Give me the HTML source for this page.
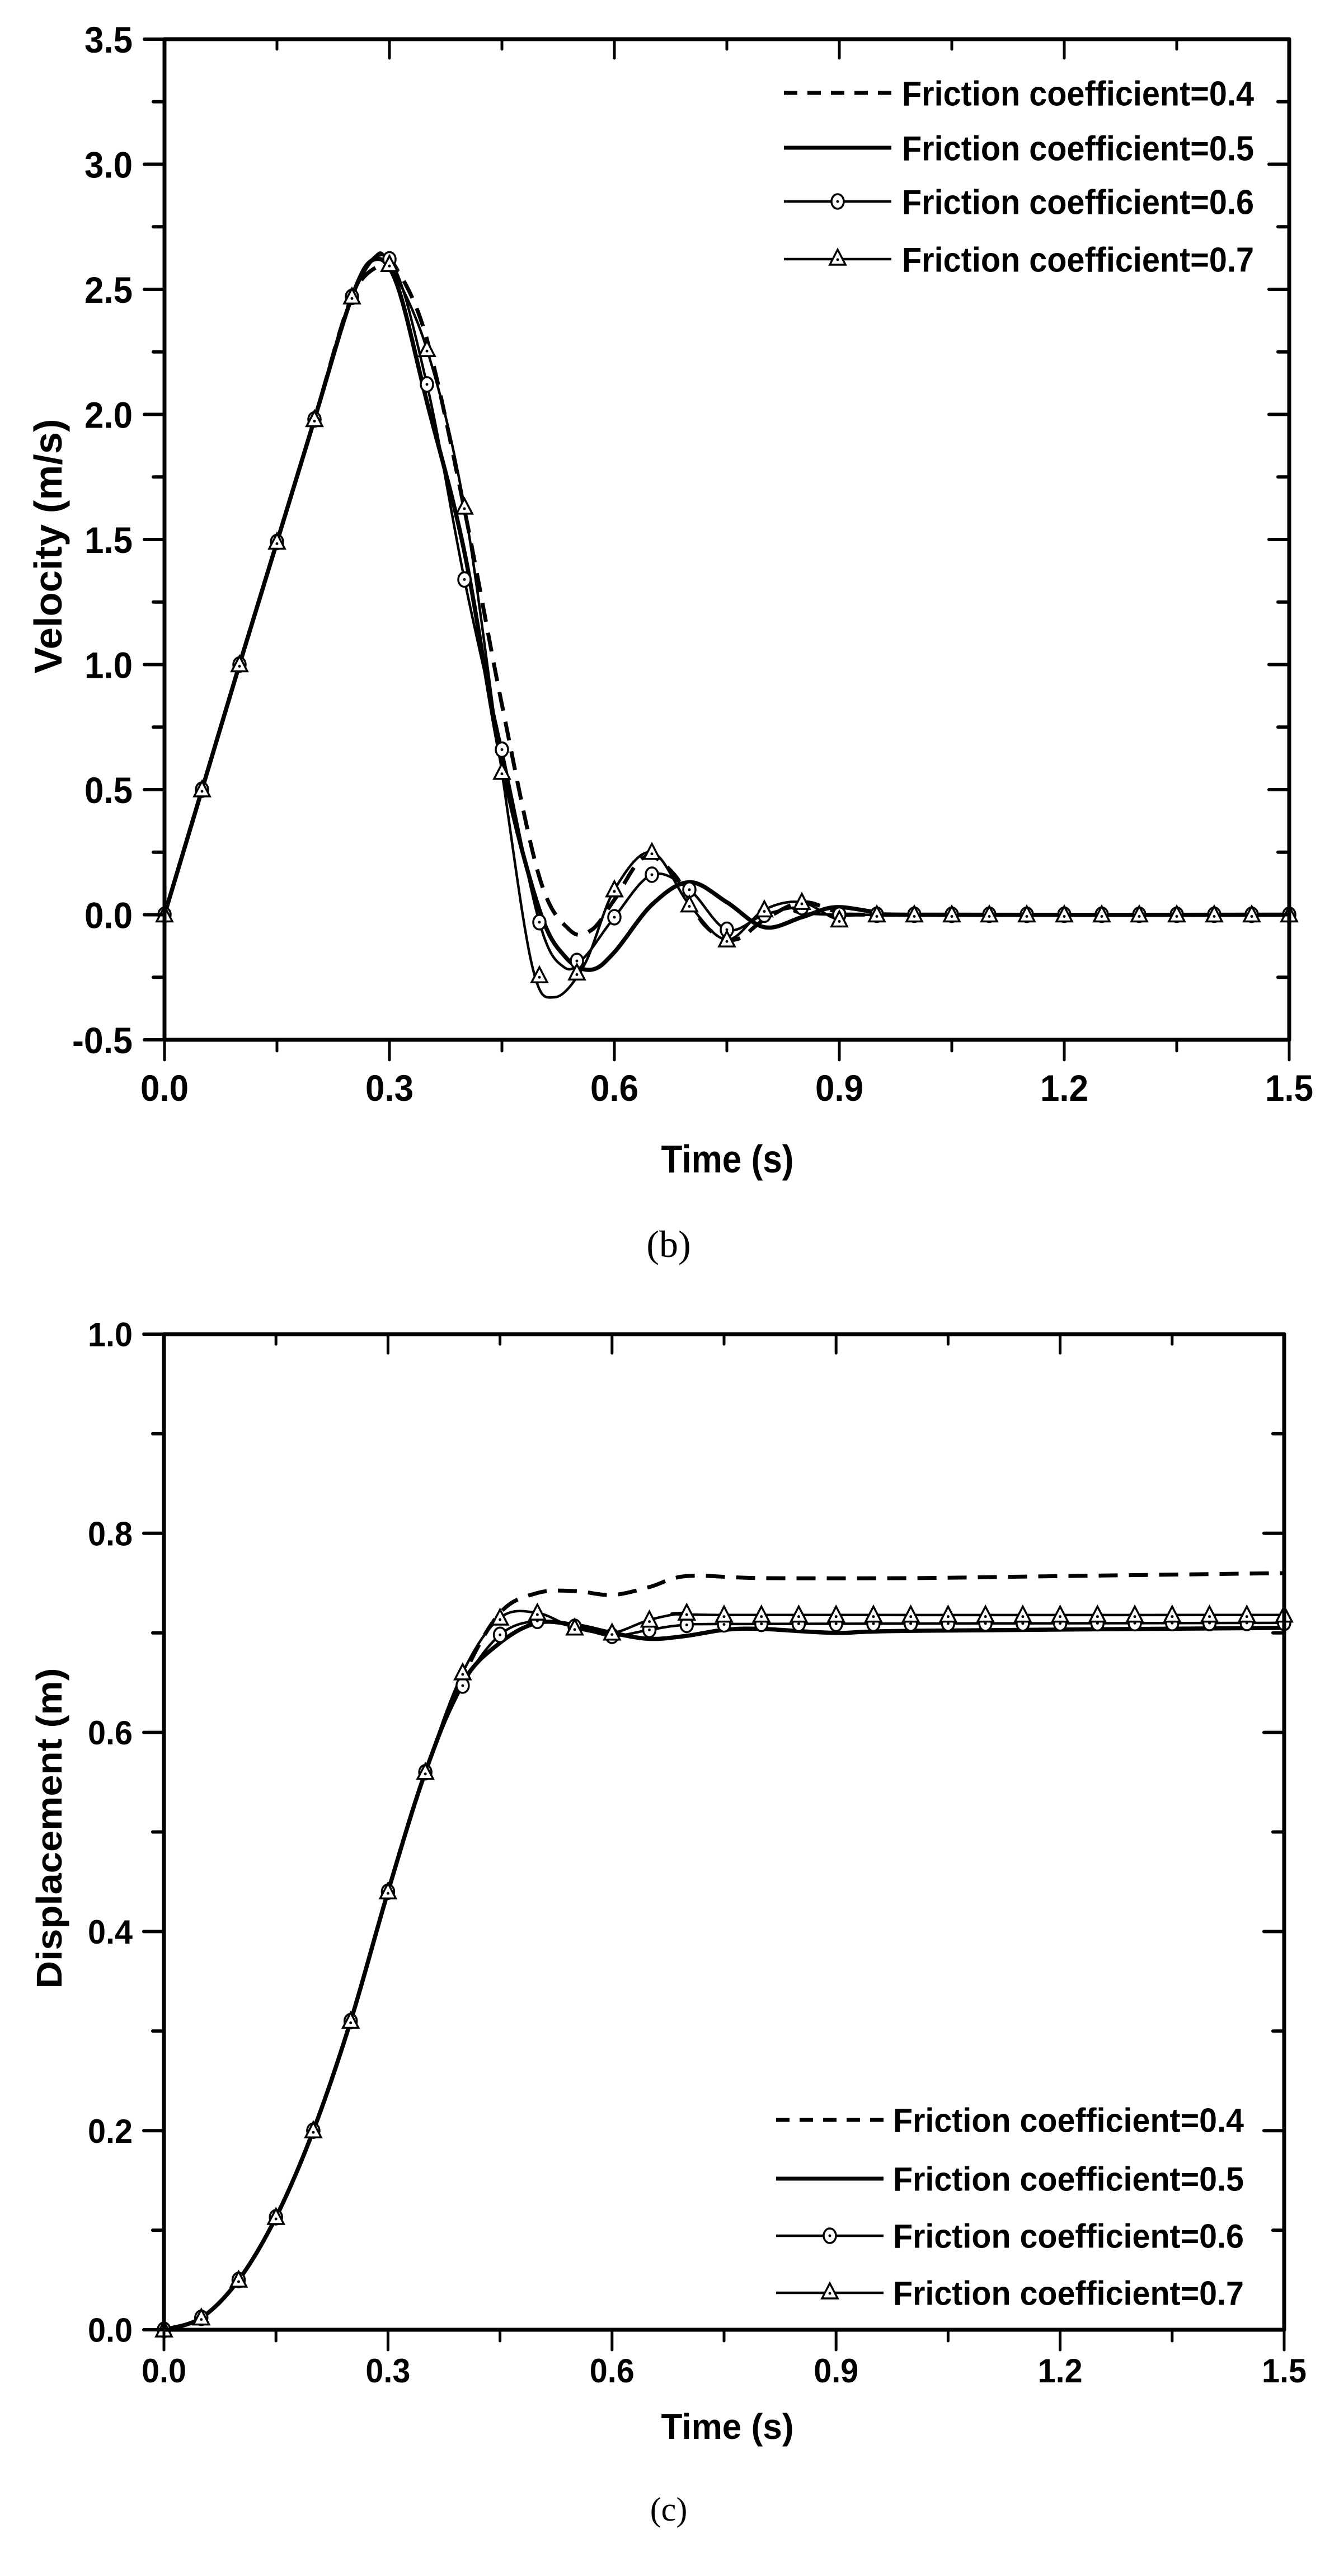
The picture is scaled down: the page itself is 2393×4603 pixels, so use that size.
<!DOCTYPE html>
<html><head><meta charset="utf-8">
<style>
html,body{margin:0;padding:0;background:#fff;}
svg{display:block;}
text{font-family:"Liberation Sans",Arial,sans-serif;font-weight:bold;fill:#000;}
.cap{font-family:"Liberation Serif","Times New Roman",serif;font-weight:normal;}
</style></head>
<body>
<svg id="s" width="2393" height="4603" viewBox="0 0 2393 4603" xmlns="http://www.w3.org/2000/svg">
<rect width="2393" height="4603" fill="#fff"/>
<g id="g"></g>
</svg>
<script>
var NS="http://www.w3.org/2000/svg",G=document.getElementById('g');
function el(n,a,t){var e=document.createElementNS(NS,n);for(var k in a)e.setAttribute(k,a[k]);if(t!=null)e.textContent=t;G.appendChild(e);return e;}
function line(x1,y1,x2,y2,w){el('line',{x1:x1,y1:y1,x2:x2,y2:y2,stroke:'#000','stroke-width':w,'stroke-linecap':'round'});}
function spline(pts){var d='M'+pts[0][0].toFixed(1)+','+pts[0][1].toFixed(1);
 for(var i=0;i<pts.length-1;i++){var p0=pts[i>0?i-1:0],p1=pts[i],p2=pts[i+1],p3=pts[i+2<pts.length?i+2:i+1];
  var c1x=p1[0]+(p2[0]-p0[0])/6,c1y=p1[1]+(p2[1]-p0[1])/6,c2x=p2[0]-(p3[0]-p1[0])/6,c2y=p2[1]-(p3[1]-p1[1])/6;
  d+='C'+c1x.toFixed(1)+','+c1y.toFixed(1)+' '+c2x.toFixed(1)+','+c2y.toFixed(1)+' '+p2[0].toFixed(1)+','+p2[1].toFixed(1);}
 return d;}
function interp(data,t){for(var i=0;i<data.length-1;i++){if(t>=data[i][0]&&t<=data[i+1][0]){var f=(t-data[i][0])/(data[i+1][0]-data[i][0]);return data[i][1]+f*(data[i+1][1]-data[i][1]);}}return data[data.length-1][1];}
function circ(x,y){el('ellipse',{cx:x,cy:y,rx:11,ry:13,fill:'#fff',stroke:'#000','stroke-width':3.5});el('circle',{cx:x,cy:y,r:2.5,fill:'#000'});}
function tri(x,y){el('polygon',{points:(x-14)+','+(y+12)+' '+(x+14)+','+(y+12)+' '+x+','+(y-15),fill:'#fff',stroke:'#000','stroke-width':3.5,'stroke-linejoin':'miter'});el('circle',{cx:x,cy:y+3,r:2.5,fill:'#000'});}

function chart(o){
 var X=function(t){return o.x0+(t/1.5)*(o.x1-o.x0);},Y=function(v){return o.y1-(v-o.vmin)/(o.vmax-o.vmin)*(o.y1-o.y0);};
 var S=o.series;
 el('path',{d:spline(S[0].map(function(p){return [X(p[0]),Y(p[1])];})),fill:'none',stroke:'#000','stroke-width':7,'stroke-dasharray':'34,20'});
 el('path',{d:spline(S[1].map(function(p){return [X(p[0]),Y(p[1])];})),fill:'none',stroke:'#000','stroke-width':7.5});
 el('path',{d:spline(S[2].map(function(p){return [X(p[0]),Y(p[1])];})),fill:'none',stroke:'#000','stroke-width':4.5});
 el('path',{d:spline(S[3].map(function(p){return [X(p[0]),Y(p[1])];})),fill:'none',stroke:'#000','stroke-width':4.5});
 for(var k=0;k<=30;k++){var t=k*0.05;circ(X(t),Y(interp(S[2],t)));}
 for(var k=0;k<=30;k++){var t=k*0.05;tri(X(t),Y(interp(S[3],t)));}
 var w=7;
 line(o.x0,o.y0,o.x1,o.y0,w);line(o.x0,o.y1,o.x1,o.y1,w);
 line(o.x0,o.y0,o.x0,o.y1,w);line(o.x1,o.y0,o.x1,o.y1,w);
 for(var k=0;k<=10;k++){var t=k*0.15,x=X(t),maj=(k%2==0);
  line(x,o.y1,x,o.y1+(maj?36:20),5);
  line(x,o.y0,x,o.y0+(maj?34:18),5);
  if(maj){el('text',{x:x,y:o.xlY,'text-anchor':'middle','font-size':o.fs,textLength:o.tlw,lengthAdjust:'spacingAndGlyphs'},(t).toFixed(1));}
 }
 for(var v=o.vmin,i=0;v<=o.vmax+1e-9;v+=o.minor,i++){var y=Y(v),maj=(i%2==0);
  line(o.x0-(maj?36:20),y,o.x0,y,6);
  line(o.x1,y,o.x1-(maj?36:20),y,6);
  if(maj){el('text',{x:o.ylX,y:y+o.fs*0.36,'text-anchor':'end','font-size':o.fs,textLength:(v<0?o.tlw+22:o.tlw),lengthAdjust:'spacingAndGlyphs'},v.toFixed(1));}
 }
 el('text',{x:o.tX,y:o.tY,'text-anchor':'middle','font-size':o.fs+4,textLength:237,lengthAdjust:'spacingAndGlyphs'},'Time (s)');
 el('text',{x:0,y:0,'text-anchor':'middle','font-size':o.fs+4,textLength:o.ytL,lengthAdjust:'spacingAndGlyphs',transform:'translate(110,'+o.ytC+') rotate(-90)'},o.ytitle);
 el('text',{x:1195,y:o.capY,'text-anchor':'middle','font-size':o.capFs,'class':'cap'},o.cap);
 var L=o.leg;
 for(var j=0;j<4;j++){var ly=L.rows[j];
  var a={x1:L.lx0,y1:ly,x2:L.lx1,y2:ly,stroke:'#000','stroke-width':(j<2?7:4.5)};
  if(j==0)a['stroke-dasharray']='24,18';
  el('line',a);
  var mx=(L.lx0+L.lx1)/2;
  if(j==2)circ(mx,ly);if(j==3)tri(mx,ly-2);
  el('text',{x:L.tx,y:ly+L.fs*0.36,'font-size':L.fs,textLength:L.tw,lengthAdjust:'spacingAndGlyphs'},'Friction coefficient=0.'+(4+j));
 }
}
var rise=[[0,0],[0.05,0.5],[0.1,1.0],[0.15,1.49],[0.2,1.98],[0.25,2.47]];
chart({x0:294,x1:2304,y0:70,y1:1858,vmin:-0.5,vmax:3.5,minor:0.25,fs:66,tlw:86,xlY:1967,ylX:237,
 tX:1300,tY:2095,ytL:455,ytC:976,ytitle:'Velocity (m/s)',cap:'(b)',capY:2246,capFs:68,
 series:[
  rise.concat([[0.29,2.6],[0.31,2.58],[0.35,2.3],[0.4,1.62],[0.45,0.84],[0.5,0.15],[0.54,-0.06],[0.57,-0.06],[0.6,0.06],[0.64,0.23],[0.68,0.16],[0.72,-0.04],[0.76,-0.1],[0.8,-0.02],[0.85,0.05],[0.9,0.01],[0.95,0],[1.5,0]]),
  rise.concat([[0.28,2.62],[0.31,2.52],[0.35,2.05],[0.4,1.45],[0.45,0.6],[0.5,0.02],[0.535,-0.17],[0.569,-0.22],[0.6,-0.15],[0.65,0.04],[0.7,0.13],[0.75,0.05],[0.8,-0.05],[0.85,-0.01],[0.894,0.03],[0.95,0.01],[1.0,0],[1.5,0]]),
  rise.concat([[0.3,2.62],[0.35,2.12],[0.4,1.34],[0.45,0.66],[0.5,-0.03],[0.533,-0.21],[0.56,-0.17],[0.6,-0.01],[0.65,0.16],[0.7,0.1],[0.75,-0.06],[0.8,0.0],[0.85,0.03],[0.9,0.0],[1.5,0]]),
  rise.concat([[0.28,2.63],[0.3,2.6],[0.35,2.26],[0.4,1.63],[0.45,0.57],[0.49,-0.2],[0.52,-0.33],[0.56,-0.2],[0.6,0.1],[0.65,0.25],[0.7,0.04],[0.75,-0.1],[0.8,0.02],[0.85,0.05],[0.9,-0.02],[0.95,0],[1.5,0]])
 ],
 leg:{rows:[166,264,360,463],lx0:1401,lx1:1593,tx:1612,tw:629,fs:62}
});
var rise2=[[0,0],[0.05,0.012],[0.1,0.05],[0.15,0.113],[0.2,0.2],[0.25,0.31],[0.3,0.44],[0.35,0.56]];
chart({x0:293,x1:2295,y0:2384,y1:4163,vmin:0,vmax:1.0,minor:0.1,fs:60,tlw:80,xlY:4257,ylX:237,
 tX:1300,tY:4358,ytL:573,ytC:3267,ytitle:'Displacement (m)',cap:'(c)',capY:4504,capFs:60,
 series:[
  rise2.concat([[0.4,0.655],[0.45,0.72],[0.5,0.74],[0.55,0.742],[0.6,0.738],[0.65,0.746],[0.7,0.757],[0.8,0.755],[1.0,0.755],[1.2,0.757],[1.5,0.76]]),
  rise2.concat([[0.4,0.65],[0.45,0.69],[0.5,0.71],[0.55,0.708],[0.6,0.7],[0.65,0.694],[0.7,0.697],[0.75,0.703],[0.8,0.704],[0.9,0.7],[1.0,0.702],[1.5,0.705]]),
  rise2.concat([[0.4,0.647],[0.45,0.698],[0.5,0.712],[0.55,0.706],[0.6,0.697],[0.65,0.703],[0.7,0.708],[0.8,0.709],[1.5,0.71]]),
  rise2.concat([[0.4,0.66],[0.45,0.715],[0.5,0.72],[0.55,0.705],[0.6,0.7],[0.65,0.713],[0.7,0.72],[0.75,0.718],[1.5,0.718]])
 ],
 leg:{rows:[3788,3893,3995,4097],lx0:1387,lx1:1579,tx:1596,tw:627,fs:60}
});
</script>
</body></html>
